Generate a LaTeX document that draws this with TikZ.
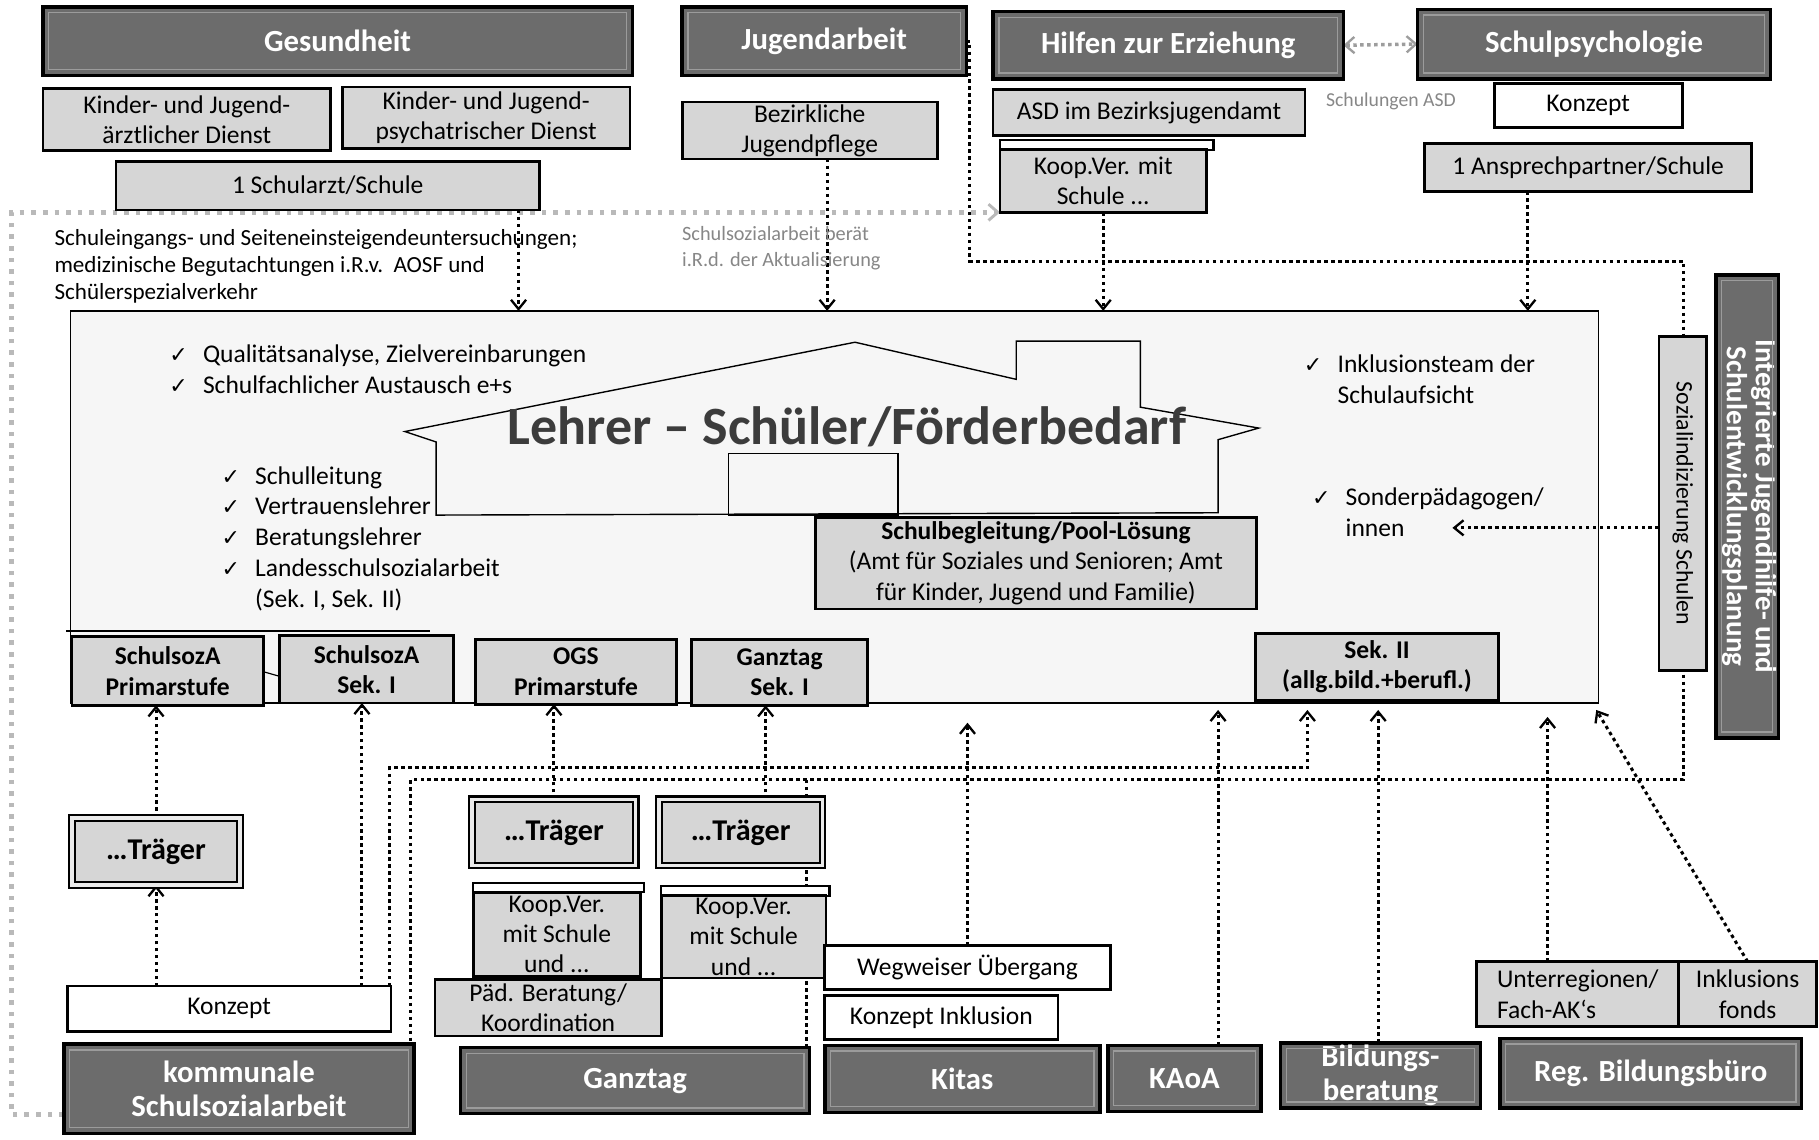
\documentclass[tikz,border=0pt]{standalone}
\usepackage{fontspec}
\setmainfont{Carlito}
\newfontfamily\djv{DejaVu Sans}
\usetikzlibrary{arrows.meta}
\pgfdeclarelayer{back}\pgfdeclarelayer{mid}\pgfsetlayers{back,mid,main}
\definecolor{darkfill}{RGB}{108,108,108}
\definecolor{lightfill}{RGB}{214,214,214}
\definecolor{mainfill}{RGB}{246,246,246}
\definecolor{bevel}{RGB}{155,155,155}
\definecolor{gline}{RGB}{185,185,185}
\definecolor{gtext}{RGB}{135,135,135}
\definecolor{titlegray}{RGB}{60,60,60}
\newcommand\myfs[2]{\fontsize{#1}{#2}\selectfont}
\newcommand\ck{\makebox[29pt][l]{\djv\myfs{19}{19}✓}}
\newcommand\bx[7]{%
  \pgfmathsetmacro\mybw{#5-#3}\pgfmathsetmacro\mybh{#6-#4}%
  \pgfmathsetmacro\mybcx{(#3+#5)/2}\pgfmathsetmacro\mybcy{(#4+#6)/2}%
  \node[#2,minimum width=\mybw pt,minimum height=\mybh pt] (#1) at (\mybcx,\mybcy) {#7};}
\tikzset{
  base/.style={inner sep=0pt,outer sep=0pt,align=center},
  dark/.style={base,draw=black,line width=3pt,fill=darkfill,text=white,font=\myfs{26.5}{30}\bfseries},
  light/.style={base,draw=black,line width=2.4pt,fill=lightfill,font=\myfs{22}{26}},
  lbold/.style={light,font=\myfs{22}{26}\bfseries},
  wbox/.style={base,draw=black,line width=2.4pt,fill=white,font=\myfs{22}{26}},
  trbox/.style={base,draw=black,line width=1.8pt,double=lightfill!50,double distance=3pt,fill=lightfill,font=\myfs{26}{30}\bfseries},
  barbox/.style={base,draw=black,line width=1.8pt,fill=white},
  mainbox/.style={base,draw=black,line width=1.2pt,fill=mainfill},
  dl/.style={line width=2.6pt,dash pattern=on 3pt off 3pt,black},
  arr/.style={-{Straight Barb[length=8pt,width=13pt,line width=2pt]}},
  gdl/.style={line width=4.5pt,dash pattern=on 4pt off 6pt,gline},
  gdltwo/.style={line width=3pt,dash pattern=on 3pt off 3pt,gline!85!black,
     {Straight Barb[length=8pt,width=14pt,line width=2pt]}-{Straight Barb[length=8pt,width=14pt,line width=2pt]}},
  bevelline/.style={bevel,line width=1.2pt},
  plain/.style={inner sep=0pt,outer sep=0pt,align=left}
}
\begin{document}
\begin{tikzpicture}[x=1pt,y=-1pt]
\useasboundingbox (0,0) rectangle (1568,982);
\begin{pgfonlayer}{back}
  \fill[white] (0,0) rectangle (1568,982);
  \bx{main}{mainbox}{61}{268}{1378}{606}{}
  \draw[line width=1.2pt] (376,444) -- (376,381) -- (349,372) -- (737,295) -- (876,327) -- (876,294)
     -- (983,294) -- (983,351) -- (1085,369) -- (1050,379) -- (1050,442) -- cycle;
  \draw[line width=1.2pt] (628,391) rectangle (774,444);
  \draw[line width=1.2pt] (57,544) -- (371,544);
\end{pgfonlayer}

% top row
\bx{gesund}{dark}{37}{6}{545}{65}{Gesundheit}
\bx{jugend}{dark}{588}{6}{833}{65}{Jugendarbeit}
\bx{hilfen}{dark}{856}{10}{1158}{68}{Hilfen zur Erziehung}
\bx{schulpsy}{dark}{1222}{8}{1526}{68}{Schulpsychologie}

\bx{kjad}{light}{37}{76}{285}{130}{Kinder- und Jugend-\\ärztlicher Dienst}
\bx{kjpd}{light}{295}{75}{543}{128}{Kinder- und Jugend-\\psychatrischer Dienst}
\bx{schularzt}{light}{100}{139}{465}{181}{1 Schularzt/Schule}
\bx{bezjp}{light}{588}{88}{808}{137}{Bezirkliche\\Jugendpflege}
\bx{asd}{light}{856}{77}{1125}{117}{ASD im Bezirksjugendamt}
\bx{koopHbar}{barbox}{862}{121}{1046}{129}{}
\bx{koopH}{light}{862}{129}{1040}{183}{Koop.Ver. mit\\Schule ...}
\node[plain,font=\myfs{17}{18},text=gtext] (schulungen) at (1199,87) {Schulungen ASD};
\bx{konzS}{wbox}{1288}{72}{1450}{110}{Konzept}
\bx{ansp}{light}{1228}{124}{1510}{165}{1 Ansprechpartner/Schule}

\node[plain,anchor=west,font=\myfs{19.9}{23.5}] (schuleing) at (47,229.5)
  {Schuleingangs- und Seiteneinsteigendeuntersuchungen;\\medizinische Begutachtungen i.R.v.\ \ AOSF und\\Schülerspezialverkehr};
\node[plain,anchor=west,font=\myfs{17.5}{22},text=gtext] (beraet) at (588,214)
  {Schulsozialarbeit berät\\i.R.d. der Aktualisierung};

% main box content
\node[font=\myfs{46.5}{50}\bfseries,text=titlegray,inner sep=0pt] (title) at (730,368) {Lehrer – Schüler/Förderbedarf};
\node[plain,anchor=west,font=\myfs{22}{26.5}] (list1) at (146,318)
  {\ck Qualitätsanalyse, Zielvereinbarungen\\\ck Schulfachlicher Austausch e+s};
\node[plain,anchor=west,font=\myfs{22}{26.7}] (list2) at (191,464.5)
  {\ck Schulleitung\\\ck Vertrauenslehrer\\\ck Beratungslehrer\\\ck Landesschulsozialarbeit\\\hspace*{29pt}(Sek. I, Sek. II)};
\node[plain,anchor=west,font=\myfs{22}{26.5}] (list3) at (1124,327)
  {\ck Inklusionsteam der\\\hspace*{29pt}Schulaufsicht};
\node[plain,anchor=west,font=\myfs{22}{26.5}] (list4) at (1131,441.5)
  {\ck Sonderpädagogen/\\\hspace*{29pt}innen};
\bx{schulbeg}{light}{703}{446}{1083}{525}{\textbf{Schulbegleitung/Pool-Lösung}\\(Amt für Soziales und Senioren; Amt\\für Kinder, Jugend und Familie)}

\bx{sa1}{lbold}{62}{549}{227}{608}{SchulsozA\\Primarstufe}
\bx{sa2}{lbold}{241}{548}{391}{606}{SchulsozA\\Sek. I}
\bx{ogs}{lbold}{410}{551}{583}{607}{OGS\\Primarstufe}
\bx{gts}{lbold}{596}{551}{748}{608}{Ganztag\\Sek. I}
\bx{sek2}{lbold}{1082}{546}{1292}{604}{Sek. II\\(allg.bild.+berufl.)}
\draw[line width=1pt] (sa1.east |- 0,579) -- (sa2.west |- 0,583);

% right side
\bx{integ}{dark,font=\myfs{25}{25}\bfseries}{1479}{237}{1533}{636}{\rotatebox{-90}{\begin{tabular}{@{}c@{}}Integrierte Jugendhilfe- und\\Schulentwicklungsplanung\end{tabular}}}
\bx{sozind}{light,font=\myfs{20.5}{24}}{1430}{290}{1471}{578}{\rotatebox{-90}{Sozialindizierung Schulen}}

% lower part
\bx{trK}{trbox}{62}{705}{207}{763}{…Träger}
\bx{trGa}{trbox}{407}{689}{548}{746}{…Träger}
\bx{trGb}{trbox}{568}{689}{709}{746}{…Träger}
\bx{koopGabar}{barbox}{408}{761}{555}{769}{}
\bx{koopGa}{light}{408}{769}{552}{842}{Koop.Ver.\\mit Schule\\und ...}
\bx{koopGbbar}{barbox}{570}{764}{715}{772}{}
\bx{koopGb}{light}{570}{772}{712}{843}{Koop.Ver.\\mit Schule\\und ...}
\bx{paed}{light}{375}{844}{570}{893}{Päd. Beratung/\\Koordination}
\bx{konzK}{wbox}{58}{850}{337}{889}{Konzept}
\bx{weg}{wbox}{711}{815}{957}{853}{Wegweiser Übergang}
\bx{konzI}{wbox}{711}{858}{912}{896}{Konzept Inklusion}
\bx{unter}{light,align=left}{1273}{829}{1447}{885}{Unterregionen/\\Fach-AK`s}
\bx{inkl}{light}{1447}{829}{1566}{885}{Inklusions\\fonds}

\bx{kommS}{dark}{55}{900}{357}{977}{kommunale\\Schulsozialarbeit}
\bx{ganz}{dark}{397}{903}{698}{960}{Ganztag}
\bx{kitas}{dark}{711}{901}{948}{959}{Kitas}
\bx{kaoa}{dark}{955}{901}{1087}{958}{KAoA}
\bx{bild}{dark}{1104}{899}{1276}{955}{Bildungs-\\beratung}
\bx{regb}{dark}{1293}{895}{1553}{955}{Reg. Bildungsbüro}

\foreach \n in {gesund,jugend,hilfen,schulpsy,integ,kommS,ganz,kitas,kaoa,bild,regb}
  \draw[bevelline] ([shift={(5pt,5pt)}]\n.south west) rectangle ([shift={(-5pt,-5pt)}]\n.north east);

% connectors
\coordinate (sonderTip) at (1252,455);
\coordinate (sekIIin) at (1127,612);
\begin{pgfonlayer}{mid}
  \draw[gdl,-{Straight Barb[length=8pt,width=14pt,line width=2.5pt]}] (kommS.west |- 0,961) -- (10,961) -- (10,183) -- (koopH.south west);
  \draw[gdltwo] (hilfen.east) -- (schulpsy.west);
  \draw[dl,arr] (447,0 |- schularzt.south) -- (447,0 |- main.north);
  \draw[dl,arr] (713,0 |- bezjp.south) -- (713,0 |- main.north);
  \draw[dl,arr] (koopH.south) -- (koopH.south |- main.north);
  \draw[dl,arr] (1317,0 |- ansp.south) -- (1317,0 |- main.north);
  \draw[dl] (jugend.east) -| (836,225) -- (1451,225) -- (1451,672) -- (354,672) -- (354,0 |- kommS.north);
  \draw[dl,arr] (336,0 |- konzK.north) -- (336,662) -- (1127,662) -- (sekIIin);
  \draw[dl] (695,0 |- ganz.north) -- (695,672);
  \draw[dl,arr] (834,0 |- weg.north) -- (834,623);
  \draw[dl,arr] (1050,0 |- kaoa.north) -- (1050,612);
  \draw[dl,arr] (1188,0 |- bild.north) -- (1188,612);
  \draw[dl,arr] (1334,0 |- unter.north) -- (1334,618);
  \draw[dl,arr] (inkl.north) -- (1376,612);
  \draw[dl,arr] (trK.south |- konzK.north) -- (trK.south);
  \draw[dl,arr] (trK.north) -- (trK.north |- sa1.south);
  \draw[dl,arr] (312,0 |- konzK.north) -- (312,0 |- sa2.south);
  \draw[dl,arr] (trGa.north) -- (trGa.north |- ogs.south);
  \draw[dl,arr] (660,0 |- trGb.north) -- (660,0 |- gts.south);
  \draw[dl,arr] (sozind.west |- sonderTip) -- (sonderTip);
\end{pgfonlayer}
\end{tikzpicture}
\end{document}
